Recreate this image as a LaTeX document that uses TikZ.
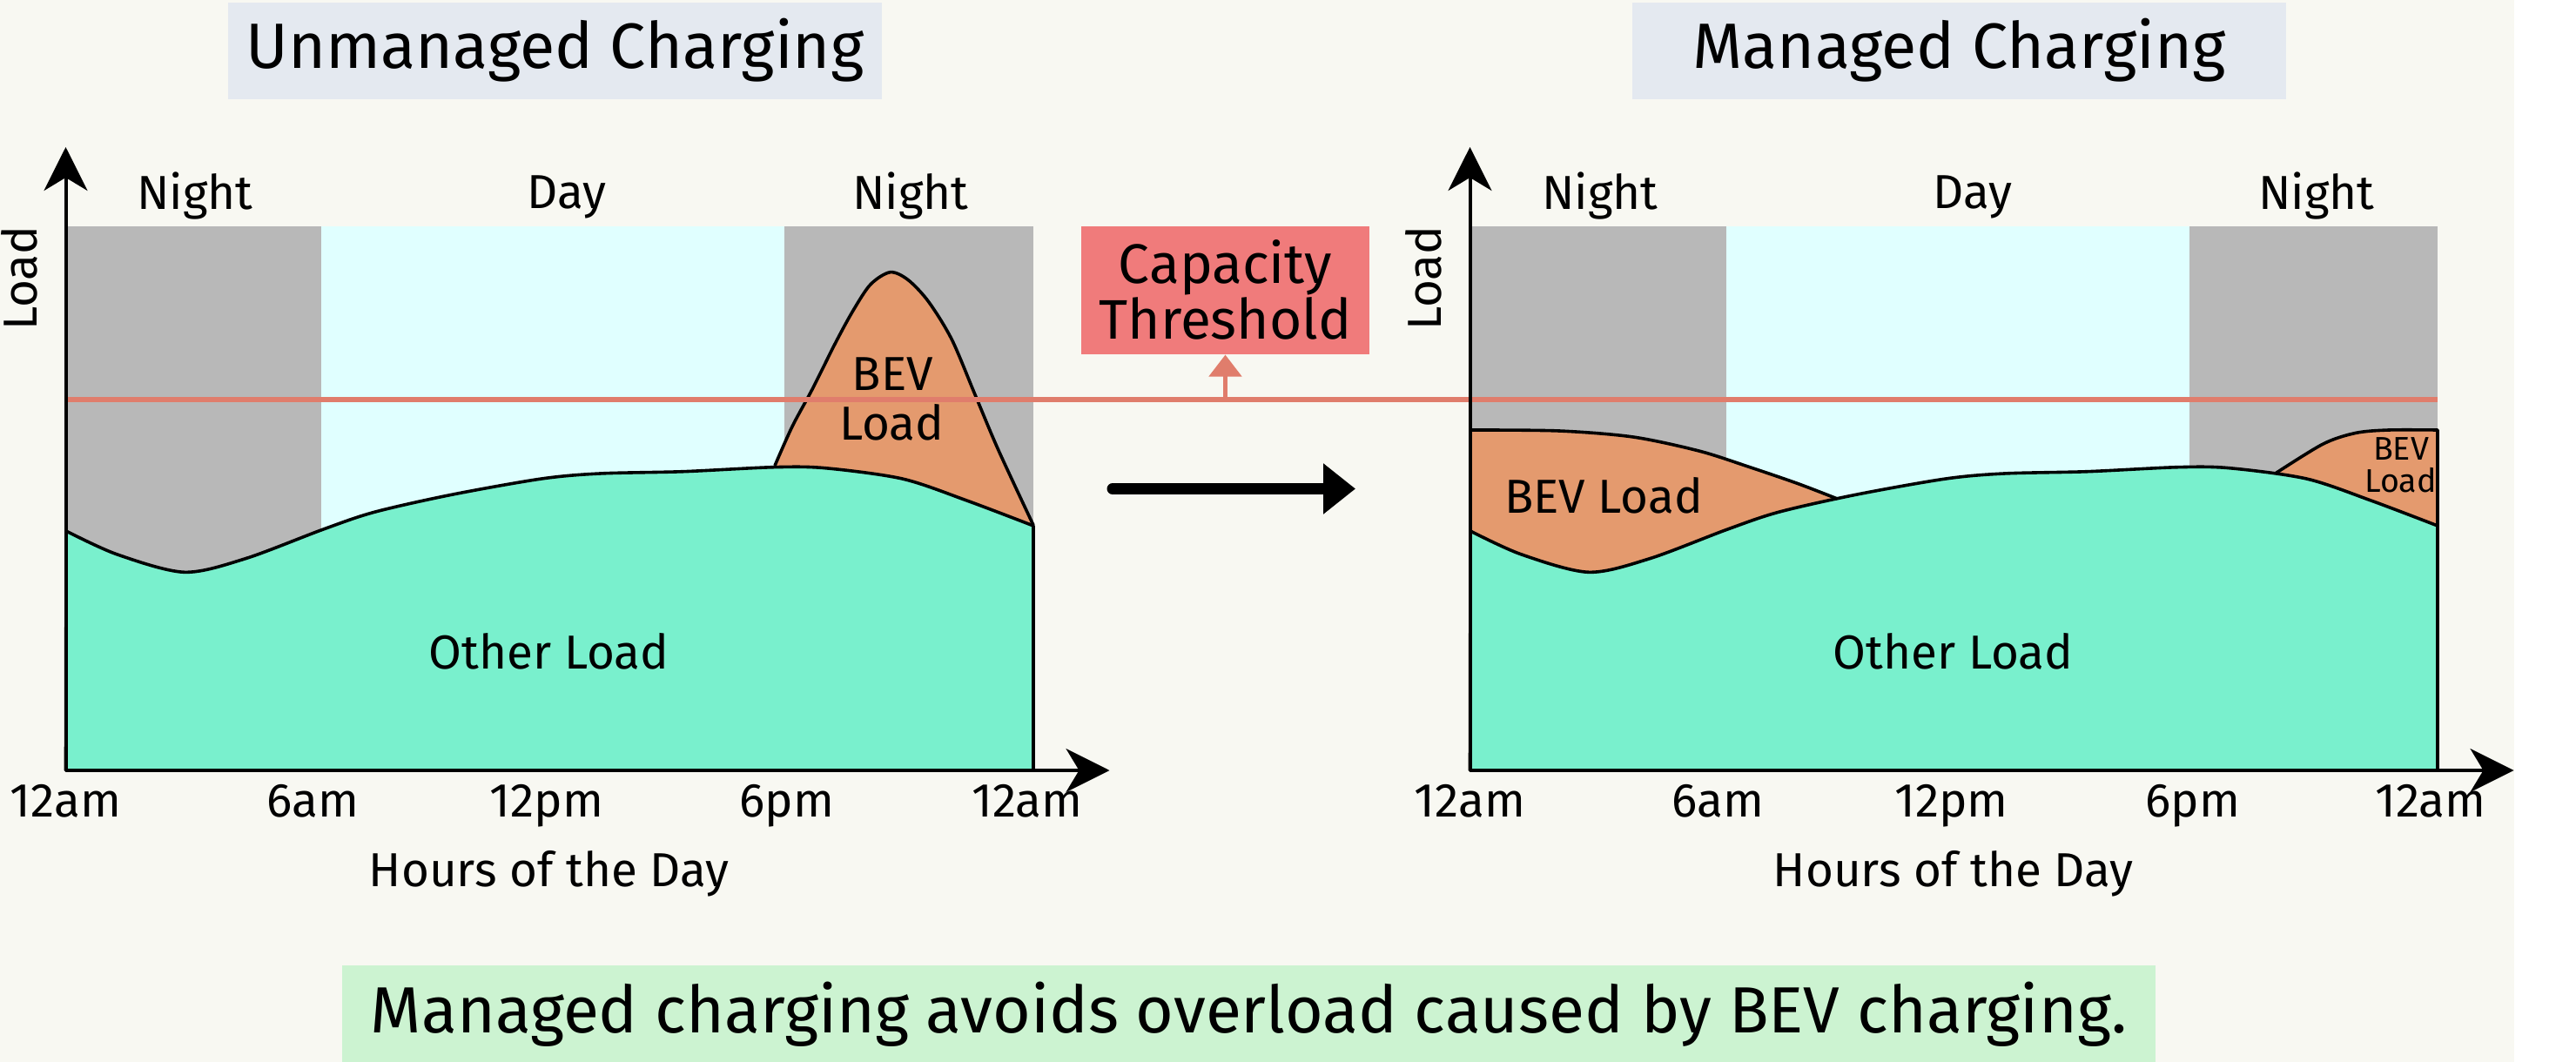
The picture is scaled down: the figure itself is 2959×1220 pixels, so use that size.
\documentclass[tikz,border=0pt]{standalone}
\usepackage{fontspec}
\setmainfont{Fira Sans}
\usetikzlibrary{arrows.meta}
\definecolor{bgc}{HTML}{F8F8F2}
\definecolor{titlebg}{HTML}{E4E9F0}
\definecolor{nightc}{HTML}{B8B8B8}
\definecolor{dayc}{HTML}{E0FFFF}
\definecolor{otherc}{HTML}{79F0CD}
\definecolor{bevc}{HTML}{E49A6E}
\definecolor{thrc}{HTML}{E07D6C}
\definecolor{capc}{HTML}{F07B7B}
\definecolor{notec}{HTML}{CCF3D1}
\begin{document}
\begin{tikzpicture}[x=0.25pt,y=-0.25pt,
  every node/.style={inner sep=0pt},
  txt/.style={anchor=base, font=\fontsize{13.7}{16}\selectfont},
  smalltxt/.style={anchor=base, font=\fontsize{9.4}{11}\selectfont},
  titlebox/.style={fill=titlebg, minimum width=187.75pt, minimum height=27.75pt, text height=10.25pt, text depth=0pt, font=\fontsize{18.4}{21}\selectfont},
  notebox/.style={fill=notec, minimum width=520.75pt, minimum height=27.75pt, text height=11.1pt, text depth=0pt, font=\fontsize{18.75}{22}\selectfont},
  capbox/.style={fill=capc, minimum width=82.75pt, minimum height=36.7pt, align=center, font=\fontsize{16}{16}\selectfont},
  outline/.style={draw=black, line width=0.9pt, line join=round},
  axisline/.style={draw=black, line width=1pt, -{Stealth[length=12.5pt,width=12.5pt,inset=3.75pt]}}
]
\useasboundingbox (0,0) rectangle (2959,1220);
\fill[white] (0,0) rectangle (2959,1220);
\fill[bgc] (0,0) rectangle (2888,1220);

% titles
\node[titlebox] (t1) at (637.5,58.5) {Unmanaged Charging};
\node[titlebox] (t2) at (2250.5,58.5) {Managed Charging};

% ---------- left chart ----------
\begin{scope}[shift={(75.5,0)}]
\fill[nightc] (0,260) rectangle (293.5,885);
\fill[dayc] (293.5,260) rectangle (825.5,885);
\fill[nightc] (825.5,260) rectangle (1111.5,885);
\node[txt] (Ln1) at (148.5,240.4) {Night};
\node[txt] (Ld) at (575.5,239.5) {Day};
\node[txt] (Ln2) at (970.5,240.4) {Night};
\fill[bevc] plot[smooth,tension=0.5] coordinates {(814.5,535) (834.5,490) (857.8,446.7) (884.5,393.3) (904.5,356.7) (924.5,326.7) (947.2,312.7) (967.8,321.7) (991.2,346.7) (1017.8,390) (1044.5,453.3) (1071.2,516.7) (1111.5,603.3)} -- (1111.5,885) -- (814.5,885) -- cycle;
\path[fill=otherc, outline] (0,885) -- plot[smooth,tension=0.5] coordinates {(0.5,610) (58.5,636.7) (136.2,657.3) (206.5,641.7) (295.2,608.3) (354.5,588.3) (443.2,568.3) (546.5,550) (613.5,544) (709.5,541.7) (813.1,536.7) (872.3,537.7) (961,550) (1035,575) (1111.5,604)} -- (1111.5,885) -- cycle;
\draw[outline] plot[smooth,tension=0.5] coordinates {(814.5,535) (834.5,490) (857.8,446.7) (884.5,393.3) (904.5,356.7) (924.5,326.7) (947.2,312.7) (967.8,321.7) (991.2,346.7) (1017.8,390) (1044.5,453.3) (1071.2,516.7) (1111.5,603.3)};
\node[txt] (Lbev1) at (950,448.5) {BEV};
\node[txt] (Lbev2) at (949,505) {Load};
\node[txt] (Lother) at (555,768.6) {Other Load};
\coordinate (Lo) at (0,885);
\coordinate (Lytip) at (0,169);
\coordinate (Lxtip) at (1199,885);
\node[txt, rotate=90] (Lylab) at (-33,319.5) {Load};
\node[txt] (Lt1) at (0,938.5) {12am};
\node[txt] (Lt2) at (283.5,938.5) {6am};
\node[txt] (Lt3) at (552.5,938.5) {12pm};
\node[txt] (Lt4) at (828.5,938.5) {6pm};
\node[txt] (Lt5) at (1104.5,938.5) {12am};
\node[txt] (Lx) at (555,1018.8) {Hours of the Day};
\end{scope}

% ---------- right chart ----------
\begin{scope}[shift={(1688.5,0)}]
\fill[nightc] (0,260) rectangle (294.5,885);
\fill[dayc] (294.5,260) rectangle (826.5,885);
\fill[nightc] (826.5,260) rectangle (1111.5,885);
\node[txt] (Rn1) at (149.5,240.4) {Night};
\node[txt] (Rd) at (577.5,239.5) {Day};
\node[txt] (Rn2) at (972.5,240.4) {Night};
\fill[bevc] plot[smooth,tension=0.5] coordinates {(0,494) (102.5,495) (187.5,502) (263,518) (319.5,536) (376.5,555.5) (422,573)} -- (422,885) -- (0,885) -- cycle;
\fill[bevc] plot[smooth,tension=0.5] coordinates {(925,544) (980,510) (1017.5,497.4) (1055.5,494) (1111.5,494)} -- (1111.5,885) -- (925,885) -- cycle;
\path[fill=otherc, outline] (0,885) -- plot[smooth,tension=0.5] coordinates {(0.5,610) (58.5,636.7) (136.2,657.3) (206.5,641.7) (295.2,608.3) (354.5,588.3) (443.2,568.3) (546.5,550) (613.5,544) (709.5,541.7) (813.1,536.7) (872.3,537.7) (961,550) (1035,575) (1111.5,604)} -- (1111.5,885) -- cycle;
\draw[outline] plot[smooth,tension=0.5] coordinates {(0,494) (102.5,495) (187.5,502) (263,518) (319.5,536) (376.5,555.5) (422,573)};
\draw[outline] plot[smooth,tension=0.5] coordinates {(925,544) (980,510) (1017.5,497.4) (1055.5,494) (1111.5,494)} -- (1111.5,604);
\node[txt] (Rbev) at (153.5,589) {BEV Load};
\node[smalltxt] (Rsb1) at (1069.5,528) {BEV};
\node[smalltxt] (Rsb2) at (1069,565.4) {Load};
\node[txt] (Rother) at (555,768.6) {Other Load};
\coordinate (Ro) at (0,885);
\coordinate (Rytip) at (0,169);
\coordinate (Rxtip) at (1199,885);
\node[txt, rotate=90] (Rylab) at (-33,319.5) {Load};
\node[txt] (Rt1) at (0,938.5) {12am};
\node[txt] (Rt2) at (284.5,938.5) {6am};
\node[txt] (Rt3) at (553,938.5) {12pm};
\node[txt] (Rt4) at (830.5,938.5) {6pm};
\node[txt] (Rt5) at (1103.5,938.5) {12am};
\node[txt] (Rx) at (555,1018.8) {Hours of the Day};
\end{scope}

% capacity threshold
\coordinate (thrL) at (75.5,459);
\coordinate (thrR) at (2800,459);
\coordinate (thrA) at (1407.5,459);
\draw[thrc, line width=1.5pt] (thrL) -- (thrR);
\node[capbox] (cap) at (1407.5,333.35) {Capacity\\Threshold};
\draw[thrc, line width=1.25pt, -{Triangle[length=6.25pt,width=9.25pt]}] (thrA) -- (cap.south);

% axes
\draw[axisline] (Lo) -- (Lytip);
\draw[axisline] (Lo) -- (Lxtip);
\draw[axisline] (Ro) -- (Rytip);
\draw[axisline] (Ro) -- (Rxtip);

% transition arrow
\coordinate (ar1) at (1278,561.5);
\coordinate (ar2) at (1557,561.5);
\draw[line width=3.25pt, line cap=round, -{Triangle[length=9.25pt,width=14pt]}] (ar1) -- (ar2);

% note
\node[notebox] (note) at (1434.5,1164.5) {Managed charging avoids overload caused by BEV charging.};
\end{tikzpicture}
\end{document}
